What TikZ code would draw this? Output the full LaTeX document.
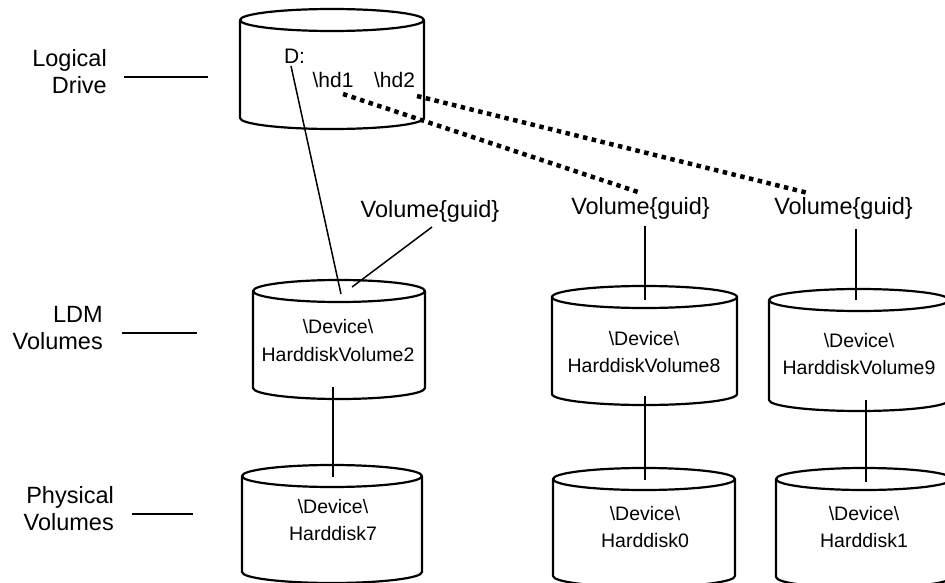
\documentclass[tikz,border=0pt]{standalone}
\usepackage{fontspec}
\setmainfont{Liberation Sans}
\newcommand\mycyl[5]{% left, right, top y, bottom y, ry
  \pgfmathsetmacro\cylcx{(#1+#2)/2}%
  \pgfmathsetmacro\cylrx{(#2-#1)/2}%
  \draw[cylline] (\cylcx,#3) ellipse[x radius=\cylrx pt, y radius=#5pt];
  \draw[cylline] (#1,#3) -- (#1,#4) arc[start angle=180,end angle=360,x radius=\cylrx pt,y radius=#5pt] -- (#2,#3);
}
\begin{document}
\begin{tikzpicture}[x=1pt,y=-1pt,
  cylline/.style={line width=2.2pt, line join=round},
  conn/.style={line width=1.5pt},
  dotconn/.style={line width=4.5pt, dash pattern=on 4.5pt off 4.5pt},
  lbl/.style={font=\fontsize{23.5}{27}\selectfont, inner sep=0pt, align=right, anchor=east},
  guid/.style={font=\fontsize{23.5}{27}\selectfont, inner sep=0pt},
  dev/.style={font=\fontsize{19.5}{27.5}\selectfont, inner sep=0pt, align=center},
  small/.style={font=\fontsize{21}{25}\selectfont, inner sep=0pt},
  tick/.style={line width=2.5pt}]
\useasboundingbox (0,0) rectangle (945,583);
\clip (0,0) rectangle (945,583);

% cylinder outlines
\mycyl{240}{424}{20}{118}{11}
\mycyl{253}{425}{291}{388}{11}
\mycyl{552}{737}{297}{394}{11}
\mycyl{769}{949}{300}{400}{11}
\mycyl{242}{422}{476}{572}{11}
\mycyl{553}{735}{479}{576}{11}
\mycyl{776}{952}{479}{577}{11}

% side labels
\node[lbl] (lld) at (107,72) {Logical\\Drive};
\node[lbl] (lldm) at (103,328) {LDM\\Volumes};
\node[lbl] (lphys) at (114,509) {Physical\\Volumes};
\coordinate (t1a) at (124,77); \coordinate (t1b) at (208,77);
\coordinate (t2a) at (122,333); \coordinate (t2b) at (197,333);
\coordinate (t3a) at (132,514); \coordinate (t3b) at (193,514);
\draw[tick] (t1a) -- (t1b);
\draw[tick] (t2a) -- (t2b);
\draw[tick] (t3a) -- (t3b);

% logical drive texts
\node[small] (dd) at (294.5,56) {D:};
\node[small] (hd1) at (333,80) {\textbackslash hd1};
\node[small] (hd2) at (394.5,80) {\textbackslash hd2};

% volume guid labels
\node[guid] (g1) at (430,211) {Volume\{guid\}};
\node[guid] (g2) at (640.5,208) {Volume\{guid\}};
\node[guid] (g3) at (843.5,208) {Volume\{guid\}};

% cylinder texts
\node[dev] (vol2) at (338,340.5) {\textbackslash Device\textbackslash\\HarddiskVolume2};
\node[dev] (vol8) at (644,352) {\textbackslash Device\textbackslash\\HarddiskVolume8};
\node[dev] (vol9) at (859,354) {\textbackslash Device\textbackslash\\HarddiskVolume9};
\node[dev] (hd7) at (333,520) {\textbackslash Device\textbackslash\\Harddisk7};
\node[dev] (hd0) at (645,527) {\textbackslash Device\textbackslash\\Harddisk0};
\node[dev] (hdone) at (864,527) {\textbackslash Device\textbackslash\\Harddisk1};

% connector end points
\coordinate (dd-s) at (291,66);
\coordinate (vol2-in1) at (341,294);
\coordinate (g1-s) at (432,227);
\coordinate (vol2-in2) at (352,287);
\coordinate (hd1-s) at (343,94);
\coordinate (g2-n) at (641,193);
\coordinate (hd2-s) at (417,96);
\coordinate (g3-n) at (808,193);
\coordinate (g2-s) at (645,226);
\coordinate (vol8-top) at (645,300);
\coordinate (g3-s) at (856,229);
\coordinate (vol9-top) at (856,300);
\coordinate (vol2-bot) at (333,387);
\coordinate (hd7-top) at (333,477);
\coordinate (vol8-bot) at (645,396);
\coordinate (hd0-top) at (645,480);
\coordinate (vol9-bot) at (866,400);
\coordinate (hdone-top) at (866,482);

\draw[conn] (dd-s) -- (vol2-in1);
\draw[conn] (g1-s) -- (vol2-in2);
\draw[dotconn] (hd1-s) -- (g2-n);
\draw[dotconn] (hd2-s) -- (g3-n);
\draw[conn] (g2-s) -- (vol8-top);
\draw[conn] (g3-s) -- (vol9-top);
\draw[conn] (vol2-bot) -- (hd7-top);
\draw[conn] (vol8-bot) -- (hd0-top);
\draw[conn] (vol9-bot) -- (hdone-top);
\end{tikzpicture}
\end{document}
